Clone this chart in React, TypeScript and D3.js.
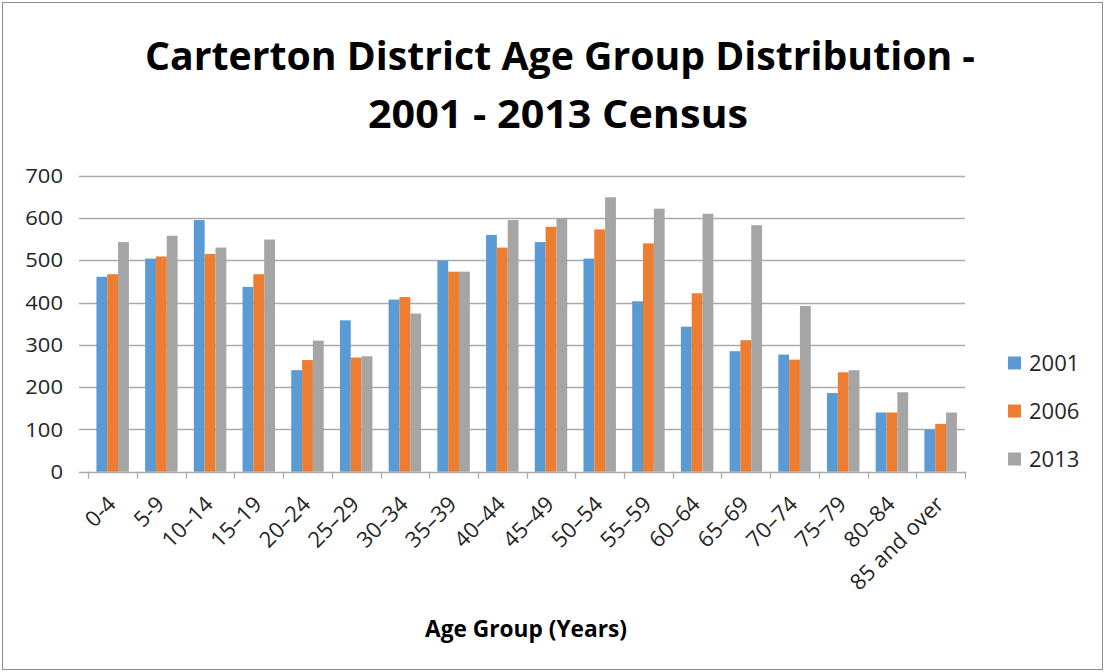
import React from "react";
import * as d3 from "d3";

const categories = ["0-4","5-9","10–14","15–19","20–24","25–29","30–34","35–39","40–44","45–49","50–54","55–59","60–64","65–69","70–74","75–79","80–84","85 and over"];
const seriesNames = ["2001","2006","2013"];
const values2001 = [461,504,595,437,240,358,407,499,560,543,504,403,343,285,277,186,140,100];
const values2006 = [467,509,515,467,264,270,413,473,530,579,573,540,422,311,265,235,140,113];
const values2013 = [543,558,530,549,310,273,374,473,595,599,649,622,610,583,392,240,188,140];
const yTicks = [0,100,200,300,400,500,600,700];
const colors = ["#5b9bd5","#ed7d31","#a5a5a5"];

const W = 1105, H = 672;
const plotL = 88.3, plotR = 965, plotT = 175.7, plotB = 471.7;

export default function App() {
  const series = [values2001, values2006, values2013];
  const x = d3.scaleBand<string>().domain(categories).range([plotL, plotR]).paddingInner(0).paddingOuter(0);
  const x1 = d3.scaleBand<string>().domain(seriesNames).range([0, x.step()]).paddingInner(0).paddingOuter(0.75);
  const y = d3.scaleLinear().domain([0, 700]).range([plotB, plotT]);
  const font = "'Open Sans', 'DejaVu Sans', sans-serif";
  const gridColor = "#ababab";
  return (
    <svg width={W} height={H} style={{ position: "absolute", left: 0, top: 0, background: "#fff" }} fontFamily={font}>
      <rect x={2.5} y={2.5} width={W - 5} height={H - 5} fill="#fff" stroke="#8c8c8c" strokeWidth={1} />
      <text x={560} y={70} textAnchor="middle" fontSize={39} fontWeight="bold" fill="#000" textLength={830} lengthAdjust="spacingAndGlyphs">Carterton District Age Group Distribution -</text>
      <text x={558} y={128} textAnchor="middle" fontSize={39} fontWeight="bold" fill="#000" textLength={380} lengthAdjust="spacingAndGlyphs">2001 - 2013 Census</text>
      {yTicks.map((t) => (
        <g key={t}>
          <line x1={79} x2={plotR} y1={Math.round(y(t)) + 0.5} y2={Math.round(y(t)) + 0.5} stroke={gridColor} strokeWidth={1.3} />
          <g transform={`translate(63,${y(t)}) scale(1.1,1)`}>
            <text x={0} y={0} dy="0.36em" textAnchor="end" fontSize={20} fill="#262626">{t}</text>
          </g>
        </g>
      ))}
      {categories.map((c, i) => (
        <g key={c}>
          {series.map((vals, s) => (
            <rect key={s} x={(x(c) as number) + (x1(seriesNames[s]) as number)} y={y(vals[i])} width={x1.bandwidth()} height={y(0) - y(vals[i])} fill={colors[s]} />
          ))}
        </g>
      ))}
      {d3.range(categories.length + 1).map((i) => {
        const xx = Math.round(plotL + i * x.step()) + 0.5;
        return <line key={i} x1={xx} x2={xx} y1={plotB} y2={plotB + 7} stroke={gridColor} strokeWidth={1.3} />;
      })}
      {categories.map((c) => {
        const cx = (x(c) as number) + x.step() / 2 - 6.5;
        return (
          <text key={c} transform={`translate(${cx},${plotB + 23}) rotate(-45)`} textAnchor="end" dy="0.7em" fontSize={22} fill="#262626">{c}</text>
        );
      })}
      <text x={526} y={637} textAnchor="middle" fontSize={23} fontWeight="bold" fill="#000" textLength={202} lengthAdjust="spacingAndGlyphs">Age Group (Years)</text>
      {seriesNames.map((n, s) => {
        const cy = 363 + s * 48;
        return (
          <g key={n}>
            <rect x={1008} y={cy - 6.5} width={13} height={13} fill={colors[s]} />
            <text x={1029} y={cy} dy="0.36em" fontSize={22} fill="#262626">{n}</text>
          </g>
        );
      })}
    </svg>
  );
}
